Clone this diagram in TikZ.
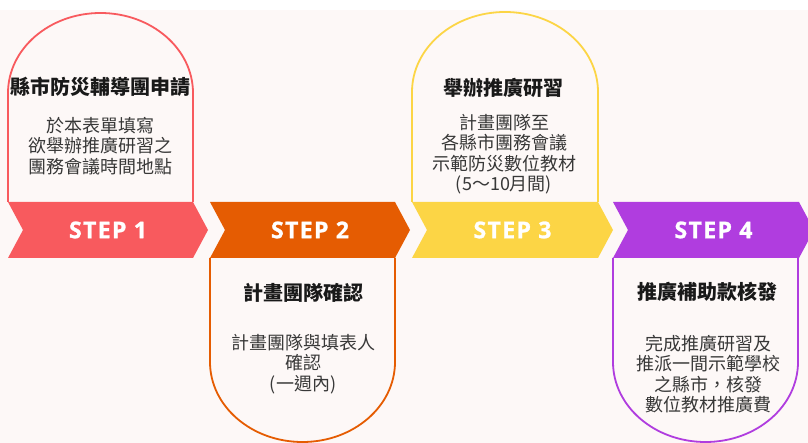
\documentclass[tikz,border=0pt]{standalone}
\usepackage{fontspec}
\setsansfont{Open Sans}
\newfontfamily\cjk{Noto Sans CJK TC}
\newfontfamily\stepfont[LetterSpace=6, BoldFeatures={FakeBold=1.2}]{Open Sans}

\definecolor{bgpink}{HTML}{FDF8F7}
\definecolor{stepred}{HTML}{F85A5E}
\definecolor{steporange}{HTML}{E55C02}
\definecolor{stepyellow}{HTML}{FCD545}
\definecolor{steppurple}{HTML}{B03DDF}

\begin{document}
\begin{tikzpicture}[x=1pt, y=-1pt,
    card/.style={line width=1.8pt, fill=bgpink},
    steplabel/.style={text=white, font=\stepfont\bfseries\fontsize{23}{23}\selectfont},
    cardtitle/.style={text=black!90, font=\cjk\bfseries\fontsize{20}{24}\selectfont},
    cardbody/.style={align=center, text=black!78, font=\cjk\fontsize{18}{20.5}\selectfont}]
        \clip (0,0) rectangle (808,443);
        \fill[white] (0,0) rectangle (808,10);
        \fill[bgpink] (0,10) rectangle (808,443);
        % cards, arch up for 1 and 3, arch down for 2 and 4
        \draw[card, draw=stepred] (8,202) -- (8,93) arc[start angle=180, end angle=0, x radius=92.5pt, y radius=80pt] -- (193,202);
        \draw[card, draw=steporange] (210,258) -- (210,362) arc[start angle=180, end angle=360, x radius=92.5pt, y radius=80pt] -- (395,258);
        \draw[card, draw=stepyellow] (412,202) -- (412,92) arc[start angle=180, end angle=0, x radius=93pt, y radius=80pt] -- (598,202);
        \draw[card, draw=steppurple] (613,258) -- (613,362) arc[start angle=180, end angle=360, x radius=92.5pt, y radius=80pt] -- (798,258);
        % banners
        \foreach \l/\r/\c/\n in {8/193/stepred/1, 210/395/steporange/2, 412/598/stepyellow/3, 613/799/steppurple/4} {
            \fill[\c] (\l,202) -- (\r,202) -- (\r+15,230) -- (\r,258) -- (\l,258) -- (\l+15,230) -- cycle;
            \node[steplabel] (step\n) at ({(\l+\r+15)/2},230) {STEP \n};
        }
        % texts
        \node[cardtitle] (title1) at (100,87) {縣市防災輔導團申請};
        \node[cardbody] (body1) at (100,146) {於本表單填寫\\欲舉辦推廣研習之\\團務會議時間地點};
        \node[cardtitle] (title2) at (303,293) {計畫團隊確認};
        \node[cardbody] (body2) at (303,364) {計畫團隊與填表人\\確認\\(一週內)};
        \node[cardtitle] (title3) at (503,88) {舉辦推廣研習};
        \node[cardbody] (body3) at (504,154) {計畫團隊至\\各縣市團務會議\\示範防災數位教材\\(5～10月間)};
        \node[cardtitle] (title4) at (707,292) {推廣補助款核發};
        \node[cardbody] (body4) at (708,374) {完成推廣研習及\\推派一間示範學校\\之縣市，核發\\數位教材推廣費};
    \end{tikzpicture}
\end{document}
